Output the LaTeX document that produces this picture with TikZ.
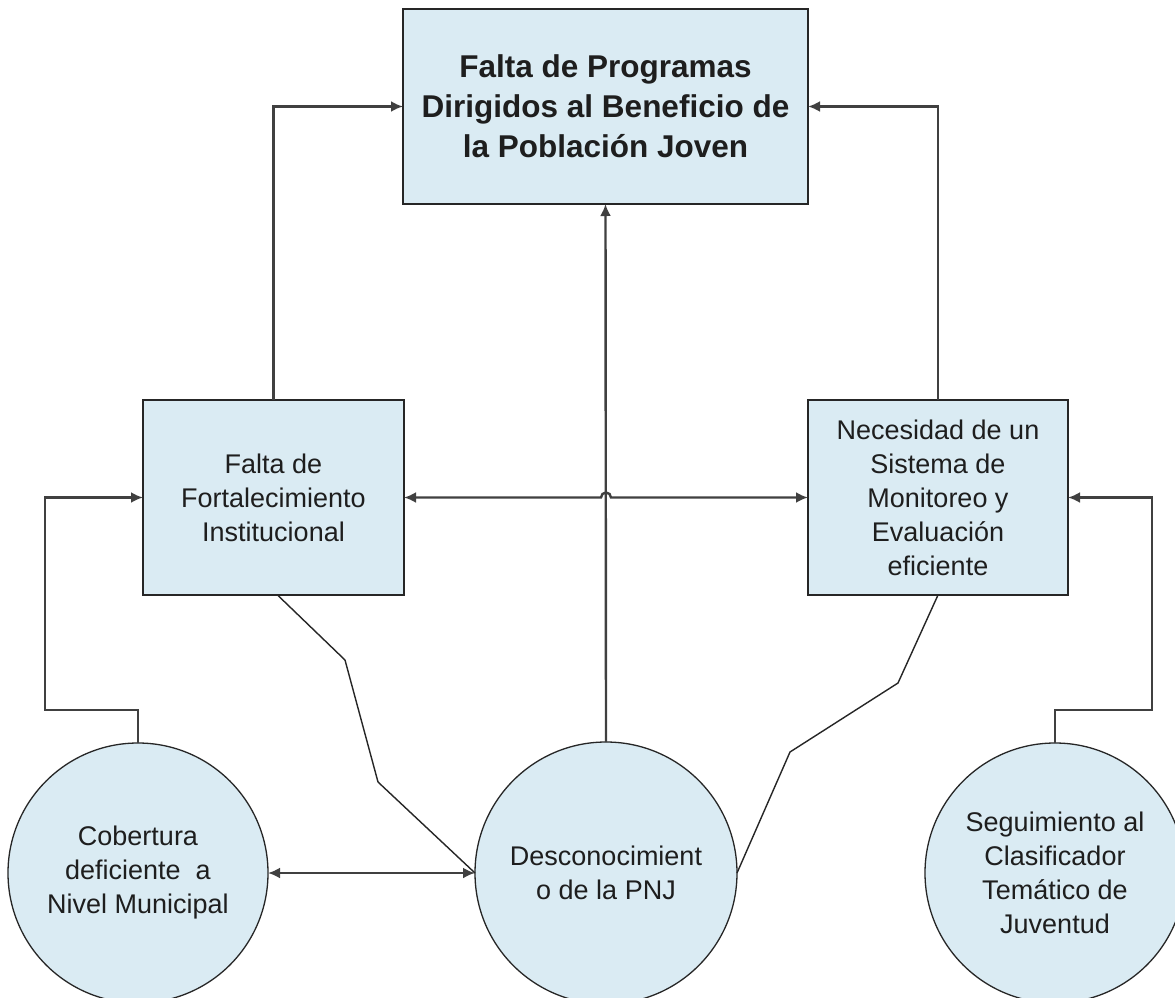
\documentclass[tikz,border=0pt]{standalone}
\usepackage{fontspec}
\setmainfont{Liberation Sans}
\usetikzlibrary{arrows.meta,calc}
\definecolor{boxfill}{RGB}{218,235,243}
\definecolor{txt}{RGB}{30,30,30}
\tikzset{
  box/.style={draw=black!85,line width=1.5pt,fill=boxfill,rectangle,inner sep=0pt,outer sep=0pt,align=center,text=txt,font=\fontsize{27}{34}\selectfont},
  topbox/.style={box,font=\fontsize{31.5}{40}\selectfont\bfseries},
  circ/.style={draw=black!85,line width=1.3pt,fill=boxfill,circle,inner sep=0pt,outer sep=0pt,align=center,text=txt,font=\fontsize{27}{34}\selectfont},
  conn/.style={draw=black!75,line width=2.4pt},
  diag/.style={draw=black!85,line width=1.4pt},
  tip/.style={-{Latex[length=12pt,width=11pt]}},
  btip/.style={{Latex[length=12pt,width=11pt]}-{Latex[length=12pt,width=11pt]}}
}
\begin{document}
\begin{tikzpicture}[x=1pt,y=1pt]
\clip (0,0) rectangle (1175,-998);
\fill[white] (0,0) rectangle (1175,-998);
% nodes
\node[topbox,minimum width=405pt,minimum height=195pt] (top) at (605.5,-106.5) {Falta de Programas\\Dirigidos al Beneficio de\\la Población Joven};
\node[box,minimum width=261pt,minimum height=195pt] (lb) at (273.5,-497.5) {Falta de\\Fortalecimiento\\Institucional};
\node[box,minimum width=260pt,minimum height=195pt] (rb) at (938,-497.5) {Necesidad de un\\Sistema de\\Monitoreo y\\Evaluación\\eficiente};
\node[circ,minimum size=260pt] (cl) at (138,-873) {Cobertura\\deficiente\ \ a\\Nivel Municipal};
\node[circ,minimum size=262pt] (cm) at (606,-873) {Desconocimient\\o de la PNJ};
\node[circ,minimum size=260pt] (cr) at (1055,-873) {\raisebox{-5pt}{\parbox{200pt}{\centering Seguimiento al\\Clasificador\\Temático de\\Juventud}}};
% helper coordinates
\coordinate (cL) at (45,-710);
\coordinate (cR) at (1152,-710);
\coordinate (hop) at ($(cm.north |- lb.east)$);
\coordinate (dl1) at (345,-660);
\coordinate (dl2) at (378,-782);
\coordinate (dr1) at (898,-683);
\coordinate (dr2) at (790,-752);
% connectors
\draw[conn,tip] (lb.north) |- (top.west);
\draw[conn,tip] (rb.north) |- (top.east);
\draw[conn,tip] (cm.north) -- (top.south);
\draw[conn,btip] (lb.east) -- ($(hop)+(-5,0)$) arc[start angle=180,end angle=0,radius=5] -- (rb.west);
\draw[conn,tip] (cl.north) |- (cL) |- (lb.west);
\draw[conn,tip] (cr.north) |- (cR) |- (rb.east);
\draw[conn,btip] (cl.east) -- (cm.west);
\draw[diag] ($(lb.south)+(4,0)$) -- (dl1) -- (dl2) -- (cm.west);
\draw[diag] (rb.south) -- (dr1) -- (dr2) -- (cm.east);
\end{tikzpicture}
\end{document}
